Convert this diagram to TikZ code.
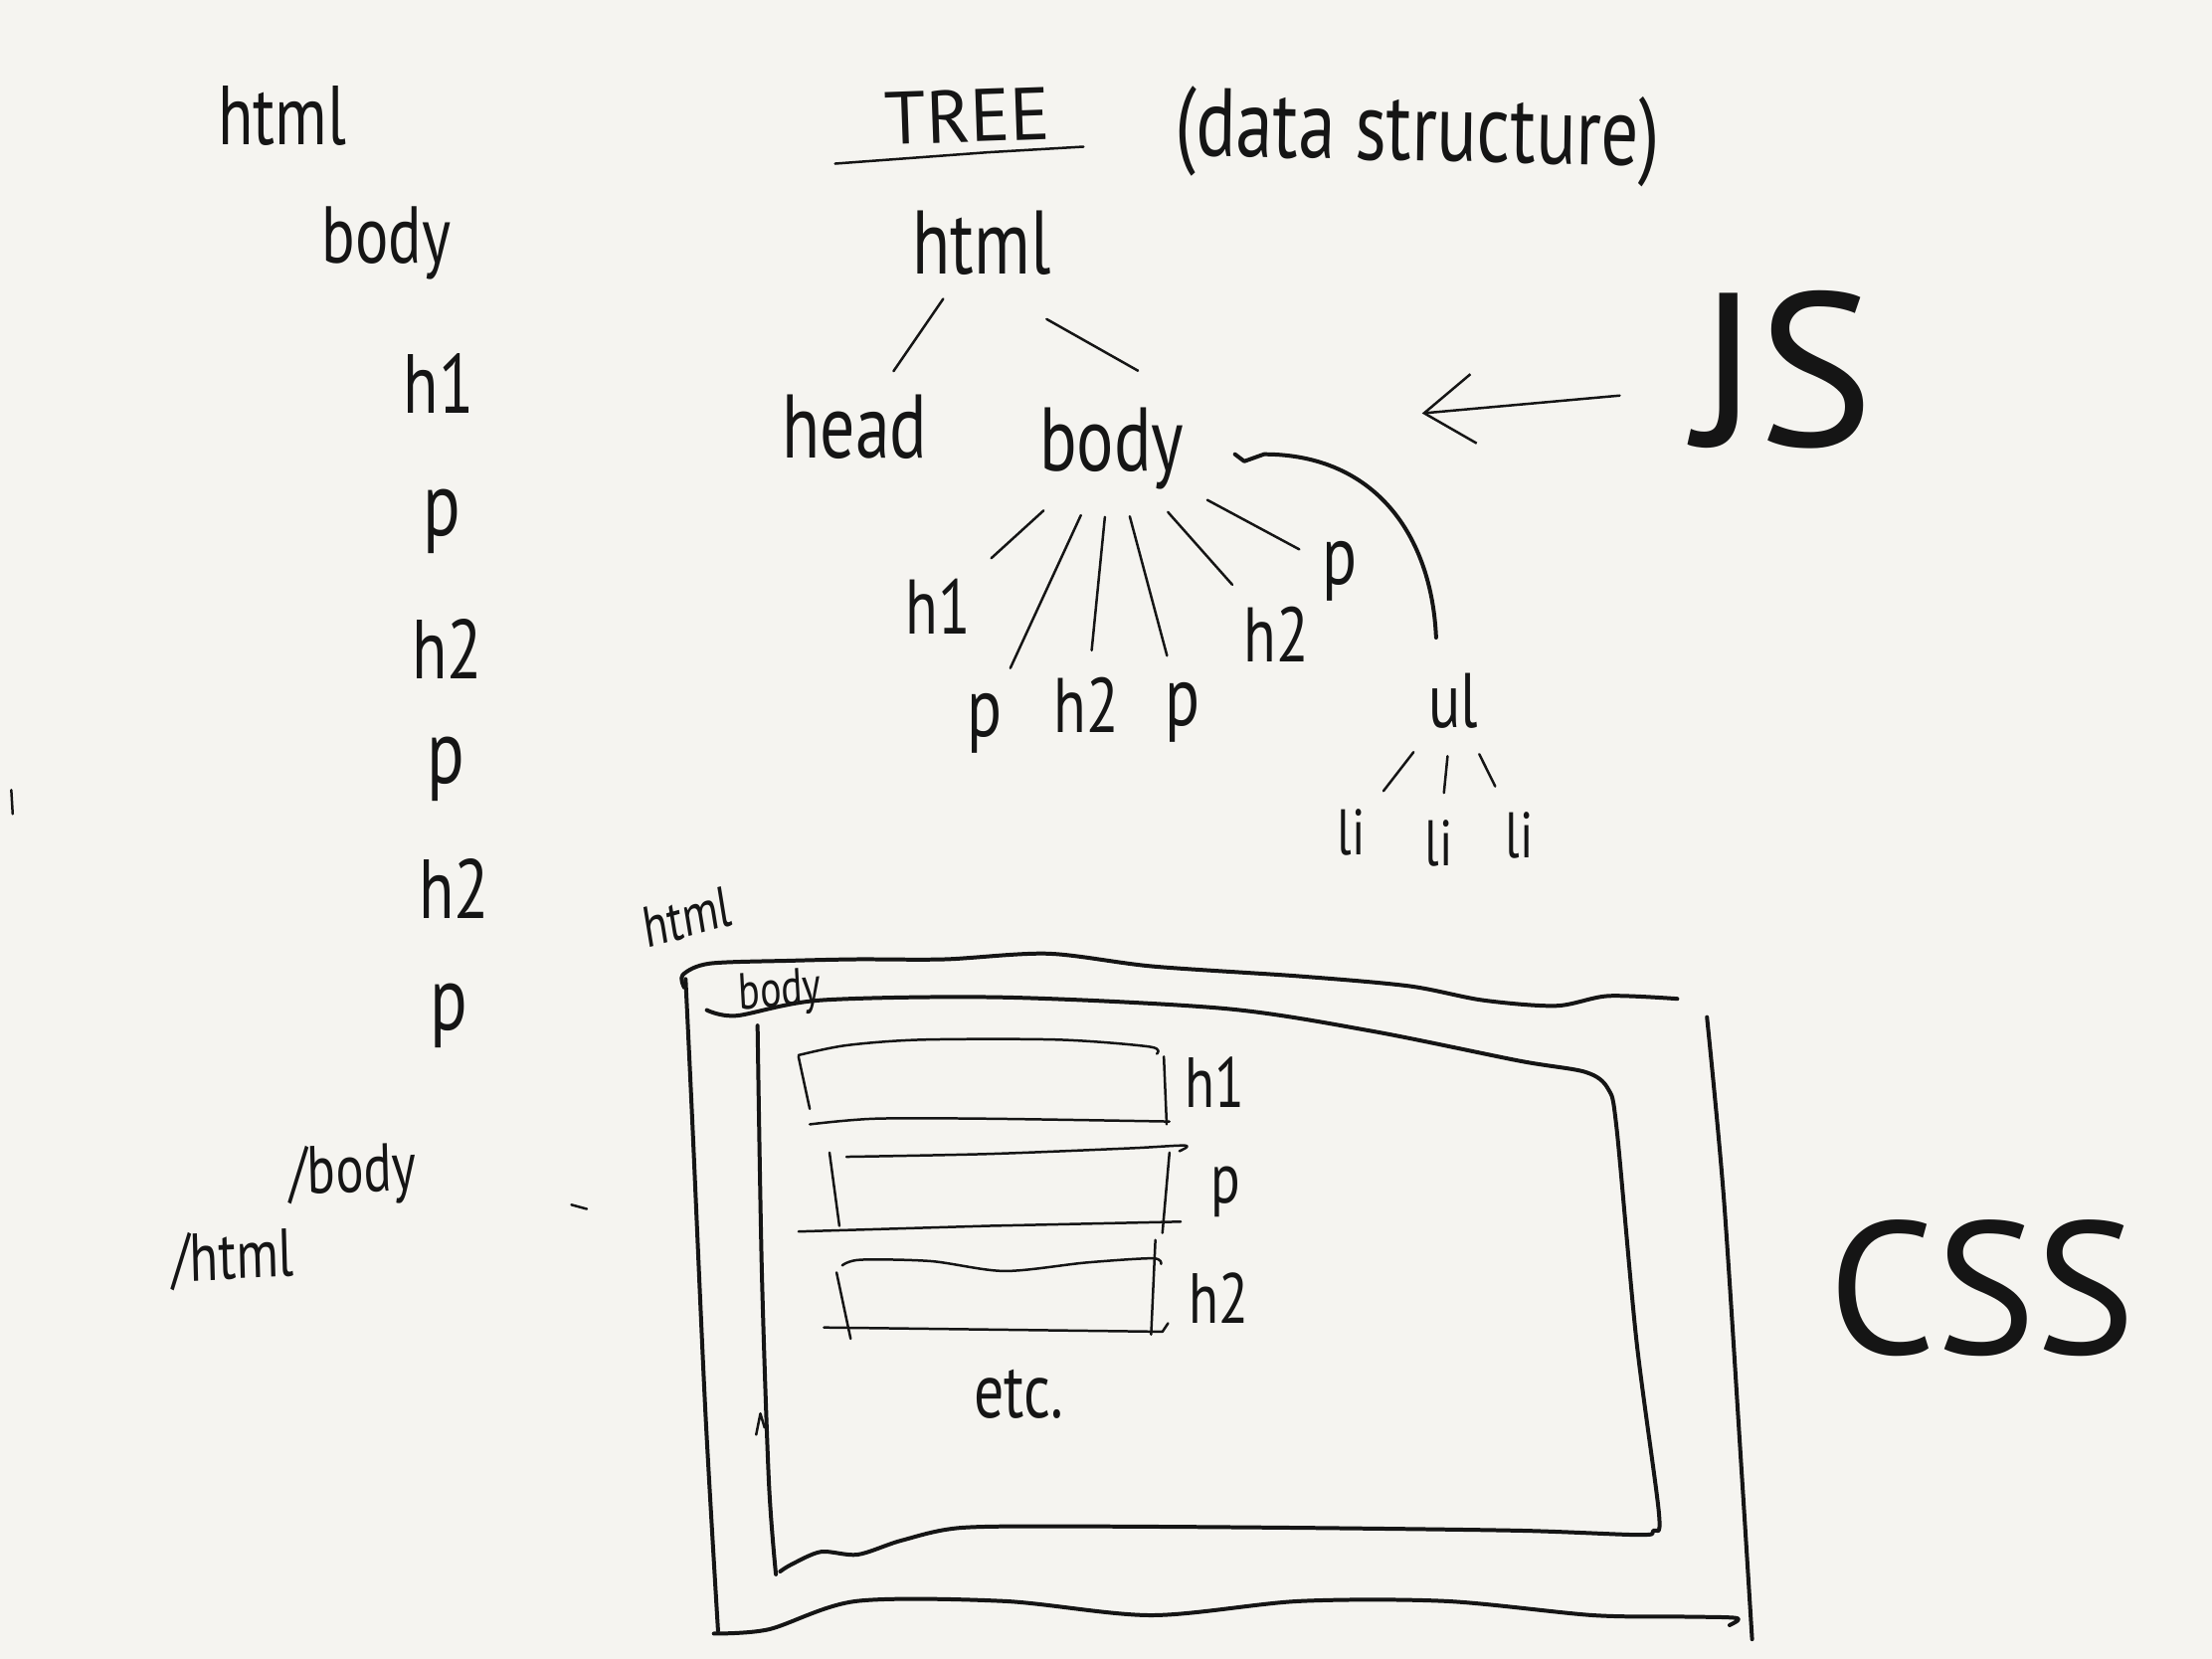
\documentclass[tikz,border=0pt]{standalone}
\usepackage{fontspec}
\setmainfont{PT Sans}
\usetikzlibrary{arrows.meta,calc}
\definecolor{paper}{HTML}{F5F4F0}
\definecolor{ink}{HTML}{151515}
\tikzset{
	hand/.style={ink, line width=0.5pt, line cap=round, line join=round},
	pen/.style={ink, line width=0.8pt, line cap=round, line join=round},
	word/.style={ink, inner sep=1pt, yscale=1.3, font=\fontsize{#1}{#1}\selectfont},
	word/.default=13,
	caps/.style={ink, inner sep=1pt, font=\fontsize{#1}{#1}\selectfont},
	branch/.style={hand, shorten <=4pt, shorten >=4pt}
}

\begin{document}
\begin{tikzpicture}[x=0.01cm, y=-0.01cm]
	\fill[paper] (0,0) rectangle (1568,1176);
	\useasboundingbox (0,0) rectangle (1568,1176);

	% source listing
	\node[word=13] (srchtml) at (200,82) {html};
	\node[word=12.5] (srcbody) at (274,172) {body};
	\node[word=13] (srch1) at (311,272) {h1};
	\node[word=14] (srcpa) at (313,370) {p};
	\node[word=13] (srch2a) at (317,460) {h2};
	\node[word=14] (srcpb) at (316,545) {p};
	\node[word=13] (srch2b) at (322,630) {h2};
	\node[word=14] (srcpc) at (318,720) {p};
	\node[word=10.5, rotate=2] (srcbodyend) at (250,833) {/body};
	\node[word=10.5, rotate=2] (srchtmlend) at (165,893) {/html};
	\draw[hand] (8,560) -- (9,577);
	\draw[hand] (405,854) -- (416,857);

	% tree
	\node[caps=15, rotate=2] (tree) at (686,82) {TREE};
	\draw[hand] (592,116) -- (700,108) -- (768,104);
	\node[word=15, rotate=-1] (ds) at (1005,97) {(data structure)};

	\node[word=14] (html) at (696,172) {html};
	\node[word=14] (head) at (606,303) {head};
	\node[word=14] (body) at (788,318) {body};
	\node[word=12] (h1) at (665,430) {h1};
	\node[word=13] (pa) at (698,513) {p};
	\node[word=12] (h2a) at (770,500) {h2};
	\node[word=13] (pb) at (838,505) {p};
	\node[word=12] (h2b) at (905,450) {h2};
	\node[word=13] (pc) at (950,405) {p};
	\node[word=12] (ul) at (1030,497) {ul};
	\node[word=10] (lia) at (958,590) {li};
	\node[word=10] (lib) at (1020,598) {li};
	\node[word=10] (lic) at (1077,592) {li};

	\foreach \a/\b in {html/head, body/h1, body/pa, body/h2a, body/pb, body/h2b, body/pc, ul/lia, ul/lib, ul/lic}
		\draw[branch] (\a) -- (\b);
	\draw[branch, shorten <=15pt, shorten >=12pt] (html.south) -- (body.north east);
	\draw[pen] ($(body.east)+(32,4)$) -- (882,327) -- (896,322) .. controls (975,322) and (1015,380) .. ($(ul.north)+(-12,-20)$);

	\node[caps=44] (js) at (1265,262) {JS};
	\coordinate (jstip) at (1008,293);
	\draw[hand, -{Straight Barb[length=10pt,width=14pt]}, shorten <=14pt] ($(js.west)+(0,14)$) -- (jstip);

	\node[caps=38] (css) at (1405,913) {CSS};

	% page boxes
	\node[word=9, rotate=12] (boxhtml) at (487,650) {html};
	\node[word=8, rotate=4] (boxbody) at (553,704) {body};

	\draw[pen] plot[smooth] coordinates {(485,700) (484,691) (503,683) (560,681) (608,680) (670,680) (743,676) (817,685) (921,692) (999,699) (1051,709) (1103,713) (1140,706) (1189,708)};
	\draw[pen] plot[smooth] coordinates {(486,694) (491,800) (500,1000) (509,1156)};
	\draw[pen] plot[smooth] coordinates {(506,1158) (545,1155) (607,1135) (712,1135) (816,1145) (921,1135) (1025,1135) (1129,1145) (1192,1146) (1231,1147) (1226,1152)};
	\draw[pen] plot[smooth] coordinates {(1210,721) (1222,850) (1235,1050) (1242,1162)};

	\draw[pen] plot[smooth] coordinates {(501,716) (522,720) (582,709) (712,707) (869,715) (973,731) (1077,752) (1124,760) (1140,772) (1146,800) (1160,950) (1176,1073) (1172,1085) (1162,1088) (1077,1085) (921,1083) (765,1082) (681,1083) (639,1092) (608,1102) (582,1100) (561,1109) (553,1114)};
	\draw[pen] plot[smooth] coordinates {(537,727) (540,900) (545,1050) (550,1116)};
	\draw[hand] (536,1017) -- (539,1002) -- (542,1012);

	\draw[hand] plot[smooth] coordinates {(566,748) (600,741) (654,737) (750,737) (815,742) (820,747)};
	\draw[hand] (566,749) -- (574,786);
	\draw[hand] plot[smooth] coordinates {(574,797) (620,793) (700,793) (829,795)};
	\draw[hand] (825,749) -- (827,797);
	\node[word=11] (boxh1) at (861,767) {h1};

	\draw[hand] plot[smooth] coordinates {(600,820) (700,818) (800,814) (840,812) (836,816)};
	\draw[hand] (588,817) -- (595,869);
	\draw[hand] (566,873) -- (700,869) -- (837,866);
	\draw[hand] (829,817) -- (824,874);
	\node[word=11] (boxp) at (869,845) {p};

	\draw[hand] plot[smooth] coordinates {(597,897) (610,893) (660,894) (712,901) (770,895) (817,892) (823,896)};
	\draw[hand] (593,902) -- (603,949);
	\draw[hand] (584,941) -- (824,944) -- (828,938);
	\draw[hand] (819,879) -- (816,946);
	\node[word=11] (boxh2) at (864,920) {h2};

	\node[word=12] (etc) at (722,988) {etc.};
\end{tikzpicture}
\end{document}
